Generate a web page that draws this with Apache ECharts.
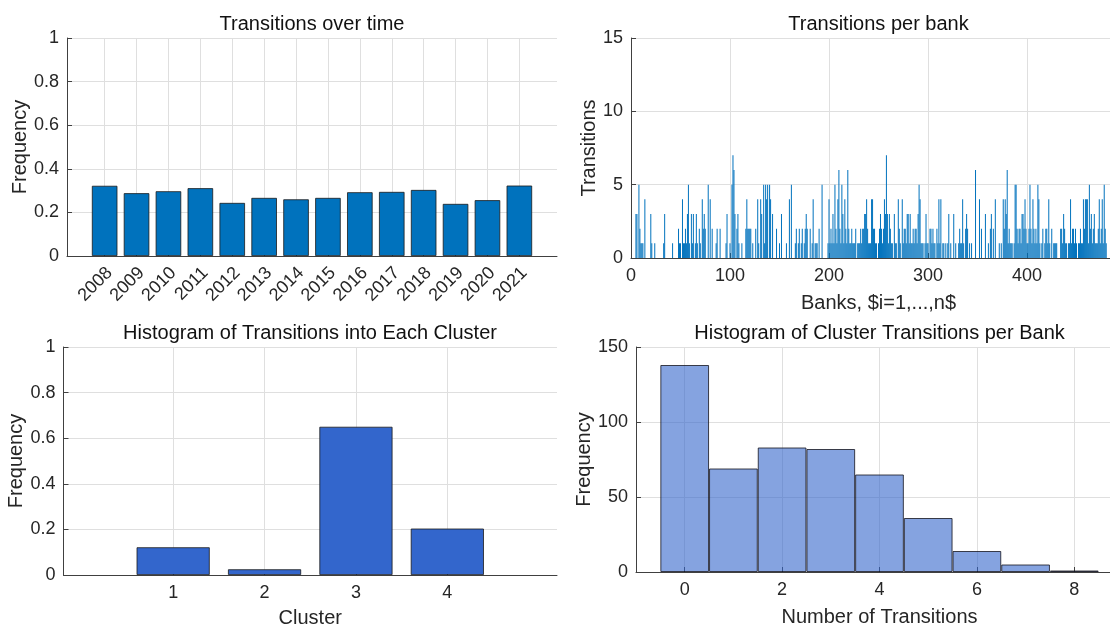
<!DOCTYPE html>
<html>
<head>
<meta charset="utf-8">
<script src="https://cdn.jsdelivr.net/npm/echarts@6/dist/echarts.min.js"></script>
<style>
  html, body { margin: 0; padding: 0; background: #ffffff; }
  #chart { width: 1110px; height: 627px; }
</style>
</head>
<body>
<div id="chart"></div>
<script>
// Share of banks changing cluster, per year
const years = [2008, 2009, 2010, 2011, 2012, 2013, 2014, 2015, 2016, 2017, 2018, 2019, 2020, 2021];
const yearFreq = [0.322, 0.288, 0.297, 0.311, 0.2435, 0.2665, 0.260, 0.2665, 0.2925, 0.294, 0.303, 0.239, 0.256, 0.323];

// Number of transitions recorded for each bank (bank 1 .. 480)
const transitionsPerBank = [
  0,0,0,0,3,3,0,5,2,1,1,1,0,4,0,0,0,0,0,3,
  1,0,0,1,0,0,0,0,0,0,0,0,1,3,0,0,0,0,0,0,
  0,1,0,0,0,0,0,2,1,1,0,4,1,1,2,1,3,5,1,0,
  3,1,3,0,1,3,1,0,2,1,0,4,2,3,2,0,0,5,0,4,
  0,2,0,0,0,1,2,0,0,2,0,0,0,0,0,1,3,0,0,1,
  0,5,7,6,3,0,2,3,1,0,0,1,0,0,0,2,4,2,2,2,
  2,0,1,0,0,2,0,4,1,0,4,3,0,5,1,5,4,5,0,5,
  4,0,3,0,0,0,2,0,0,1,0,3,0,0,0,0,1,0,0,4,
  0,5,0,0,0,1,2,0,1,2,0,1,2,0,1,2,3,2,0,0,
  2,0,1,4,0,1,1,1,0,2,0,0,5,0,0,0,0,0,1,4,
  1,2,1,3,1,5,2,1,4,6,2,1,5,3,1,4,2,1,6,2,
  1,1,2,1,1,1,2,0,1,1,1,2,1,2,2,3,3,4,2,1,
  1,1,4,4,2,2,1,1,0,1,2,3,2,1,2,4,3,7,3,1,
  3,2,1,1,0,3,1,1,0,4,2,1,0,4,1,2,2,1,3,3,
  1,3,1,1,2,1,2,2,1,3,5,4,1,1,1,0,1,3,1,1,
  0,2,2,1,2,1,1,0,2,1,4,1,4,0,1,1,0,1,0,1,
  3,0,1,0,0,3,0,1,0,0,1,2,1,1,4,1,0,2,3,2,
  0,1,0,1,0,0,0,6,0,0,0,4,0,2,0,0,0,3,0,0,
  1,0,2,3,0,2,0,4,0,0,0,1,0,1,0,4,2,4,3,6,
  1,2,1,1,1,0,1,5,5,2,1,2,2,1,3,3,2,4,2,1,
  1,2,5,2,1,4,2,1,2,1,5,4,1,0,1,2,0,1,2,2,
  1,4,1,0,2,0,1,1,1,1,0,0,0,2,2,1,3,2,1,1,
  0,1,1,4,1,2,2,1,2,1,0,1,1,2,1,1,4,2,4,4,
  4,1,5,2,3,1,2,3,1,1,1,2,4,1,2,4,1,5,2,1
];
const bankTicks = [0, 100, 200, 300, 400];

// Share of transitions ending in each cluster
const clusters = [1, 2, 3, 4];
const clusterFreq = [0.1215, 0.025, 0.650, 0.2035];

// Histogram of transitions per bank
const transitionBins = [0, 1, 2, 3, 4, 5, 6, 7, 8];
const transitionCounts = [138, 69, 83, 82, 65, 36, 14, 5, 1];
const transitionTicks = [0, 2, 4, 6, 8];

const FONT = '"Liberation Sans", Arial, Helvetica, sans-serif';
const AXIS_COLOR = '#404040';
const GRID_COLOR = '#dfdfdf';
const TEXT_COLOR = '#262626';
const TICK_SIZE = 18;
const NAME_SIZE = 20;

function axis(gridIndex, min, max, extra) {
  const base = {
    type: 'value',
    gridIndex: gridIndex,
    min: min,
    max: max,
    axisLine: { show: true, onZero: false, lineStyle: { color: AXIS_COLOR, width: 1 } },
    axisTick: { show: true, inside: true, length: 5, lineStyle: { color: AXIS_COLOR, width: 1 } },
    axisLabel: { color: TEXT_COLOR, fontSize: TICK_SIZE, fontFamily: FONT, margin: 8 },
    splitLine: { show: true, lineStyle: { color: GRID_COLOR, width: 1 } },
    nameLocation: 'middle',
    nameTextStyle: { color: TEXT_COLOR, fontSize: NAME_SIZE, fontFamily: FONT }
  };
  for (const k in extra) {
    if (typeof extra[k] === 'object' && !Array.isArray(extra[k]) && base[k]) {
      base[k] = Object.assign({}, base[k], extra[k]);
    } else {
      base[k] = extra[k];
    }
  }
  return base;
}

function title(text, x, top) {
  return {
    text: text, left: x, top: top, textAlign: 'center', padding: 0,
    textStyle: { color: '#111111', fontSize: 20, fontWeight: 'normal', fontFamily: FONT }
  };
}

function grid(left, top, width, height) {
  return { left: left, top: top, width: width, height: height, containLabel: false, outerBoundsMode: 'none' };
}

const chart = echarts.init(document.getElementById('chart'), null, { renderer: 'canvas' });

chart.setOption({
  animation: false,
  backgroundColor: '#ffffff',
  title: [
    title('Transitions over time', 312, 14),
    title('Transitions per bank', 878.5, 14),
    title('Histogram of Transitions into Each Cluster', 310, 323),
    title('Histogram of Cluster Transitions per Bank', 879.5, 323)
  ],
  grid: [
    grid(67, 38, 490, 218),
    grid(631, 38, 495, 220),
    grid(63.5, 347, 493.5, 228),
    grid(636, 347, 487, 225)
  ],
  xAxis: [
    axis(0, 2006.82, 2022.18, {
      axisTick: { customValues: years },
      axisLabel: {
        customValues: years, rotate: 45, margin: 19, padding: [0, -7, 0, 0],
        formatter: (v) => String(v)
      }
    }),
    axis(1, 0, 500, {
      name: 'Banks, $i=1,...,n$', nameGap: 35,
      axisTick: { customValues: bankTicks },
      axisLabel: { customValues: bankTicks, margin: 9 }
    }),
    axis(2, -0.2, 5.2, {
      name: 'Cluster', nameGap: 33,
      axisTick: { customValues: clusters },
      axisLabel: { customValues: clusters, margin: 9 }
    }),
    axis(3, -1, 9, {
      name: 'Number of Transitions', nameGap: 35,
      axisTick: { customValues: transitionTicks },
      axisLabel: { customValues: transitionTicks, margin: 9 }
    })
  ],
  yAxis: [
    axis(0, 0, 1, { interval: 0.2, name: 'Frequency', nameGap: 31.5 }),
    axis(1, 0, 15, { interval: 5, name: 'Transitions', nameGap: 27.5 }),
    axis(2, 0, 1, { interval: 0.2, name: 'Frequency', nameGap: 32 }),
    axis(3, 0, 150, { interval: 50, name: 'Frequency', nameGap: 35 })
  ],
  series: [
    {
      type: 'bar', xAxisIndex: 0, yAxisIndex: 0,
      data: years.map((y, i) => [y, yearFreq[i]]),
      barWidth: '80%',
      itemStyle: { color: '#0072BD', borderColor: '#1a1a1a', borderWidth: 0.8 }
    },
    {
      type: 'bar', xAxisIndex: 1, yAxisIndex: 1,
      data: transitionsPerBank.map((v, i) => [i + 1, v]),
      barWidth: '80%',
      itemStyle: { color: '#0072BD' }
    },
    {
      type: 'bar', xAxisIndex: 2, yAxisIndex: 2,
      data: clusters.map((c, i) => [c, clusterFreq[i]]),
      barWidth: '80%',
      itemStyle: { color: '#3366CC', borderColor: '#1a1a1a', borderWidth: 0.8 }
    },
    {
      type: 'bar', xAxisIndex: 3, yAxisIndex: 3,
      data: transitionBins.map((b, i) => [b, transitionCounts[i]]),
      barWidth: '100%',
      itemStyle: { color: 'rgba(51,102,204,0.6)', borderColor: 'rgba(20,20,30,0.8)', borderWidth: 1 }
    }
  ]
});
</script>
</body>
</html>
